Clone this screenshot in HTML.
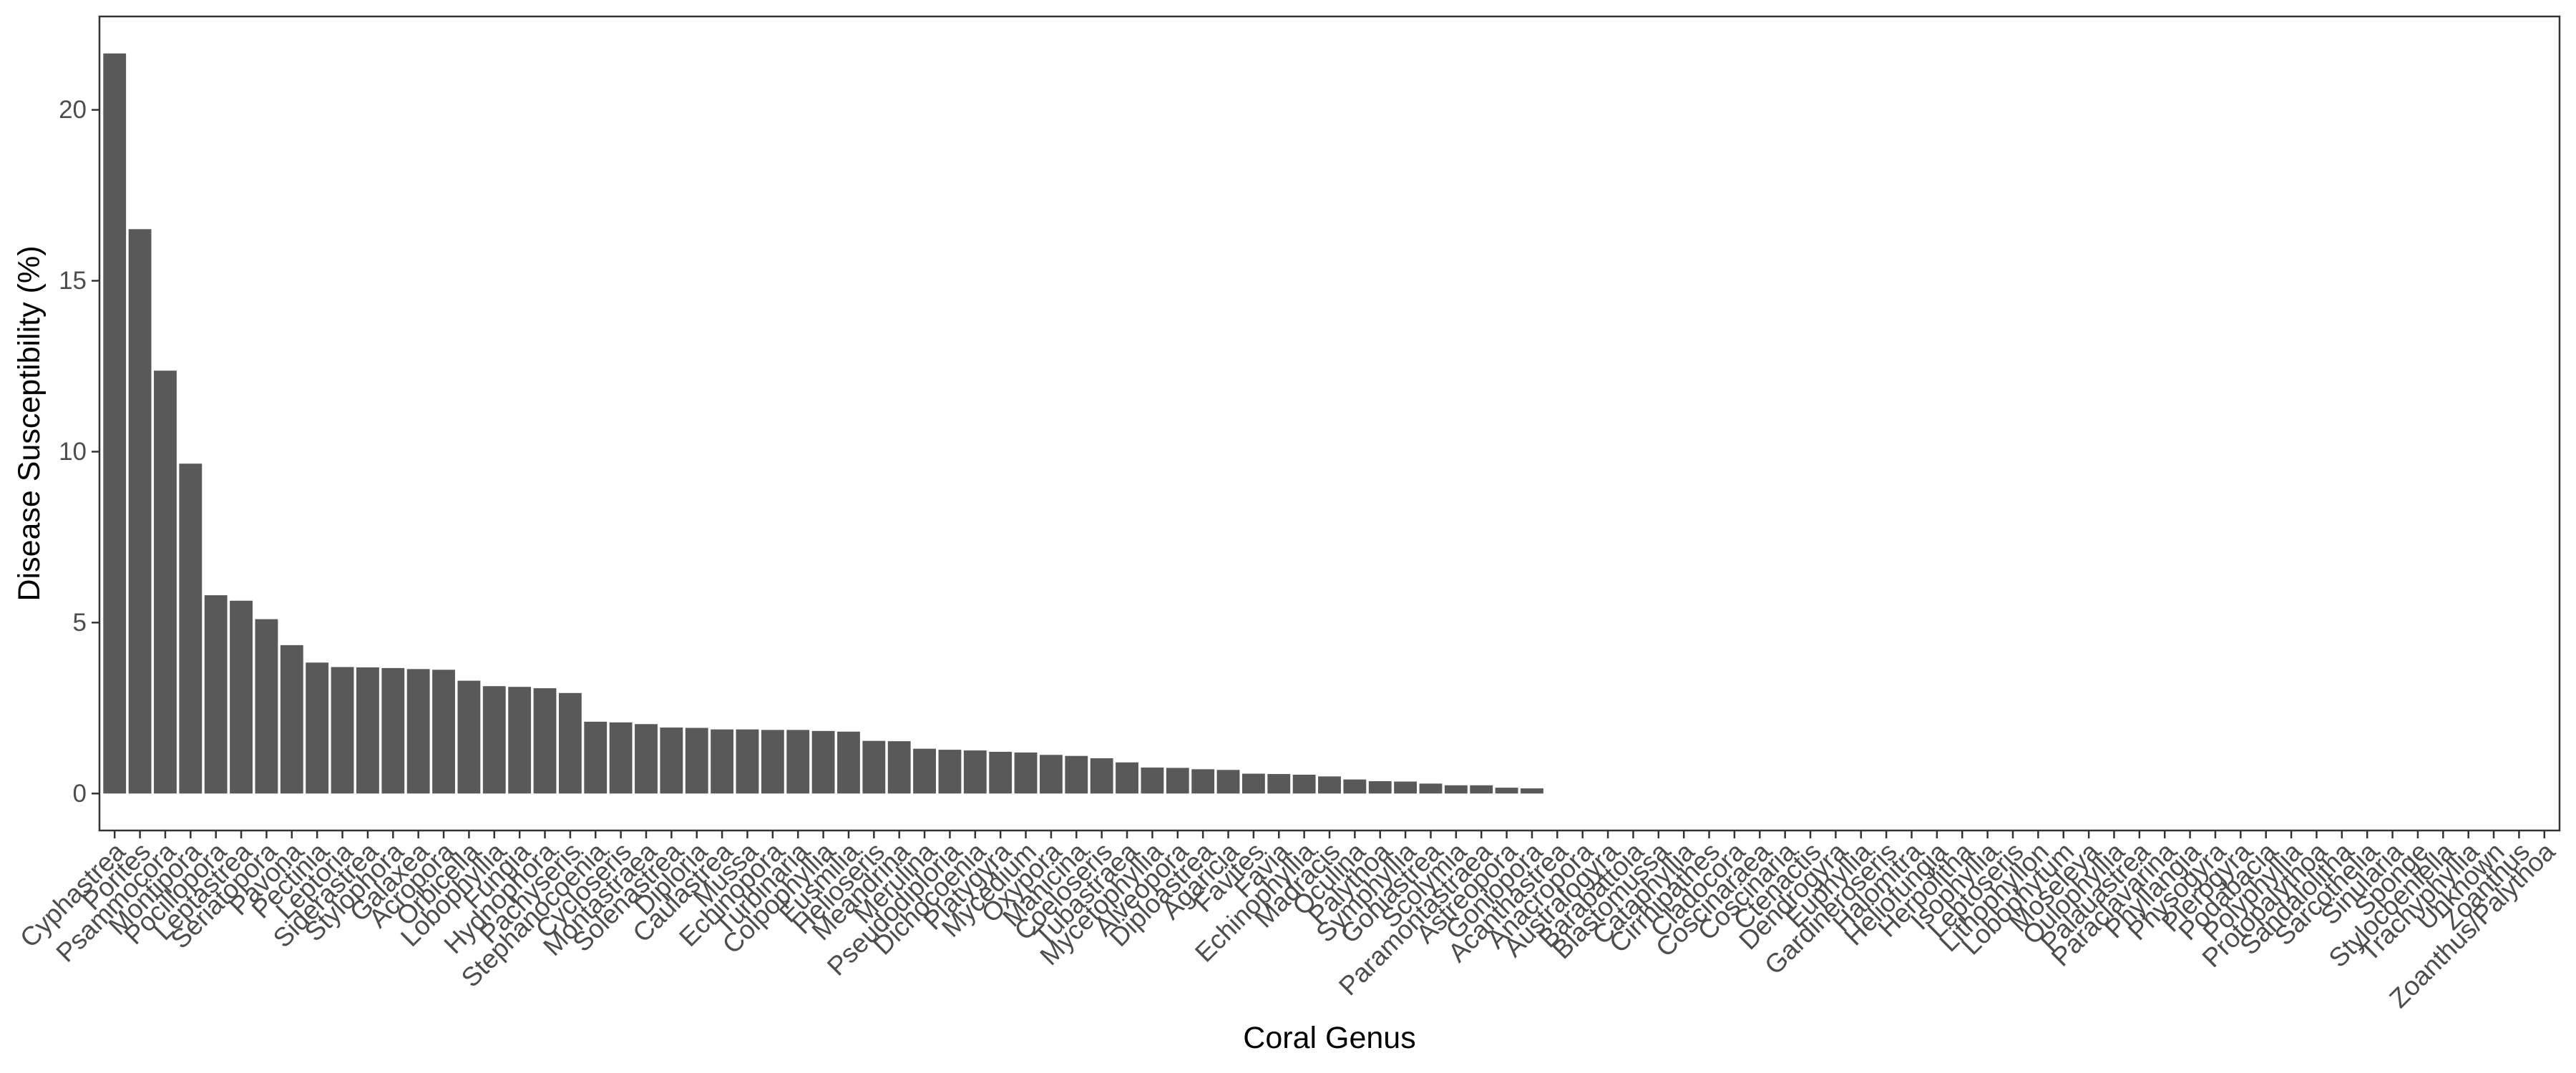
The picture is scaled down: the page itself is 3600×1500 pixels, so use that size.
<!DOCTYPE html>
<html><head><meta charset="utf-8"><title>Coral disease susceptibility</title>
<style>html,body{margin:0;padding:0;background:#fff;}svg{display:block;font-family:"Liberation Sans",sans-serif;}</style>
</head><body>
<svg id="chart" width="3600" height="1500" viewBox="0 0 3600 1500" xmlns="http://www.w3.org/2000/svg">
<rect x="0" y="0" width="3600" height="1500" fill="#fff"/>
<g id="bars"></g>
<g id="yaxis"></g>
<g id="xaxis"></g>
<rect x="139" y="23" width="3438" height="1138" fill="none" stroke="#333" stroke-width="2.5"/>
<text x="41" y="592" transform="rotate(-90 41 592)" text-anchor="middle" dominant-baseline="central" font-size="43" fill="#000">Disease Susceptibility (%)</text>
<text x="1858" y="1451" text-anchor="middle" dominant-baseline="central" font-size="43" fill="#000">Coral Genus</text>
</svg>
<script>
const categories = ["Cyphastrea","Porites","Psammocora","Montipora","Pocillopora","Leptastrea","Seriatopora","Pavona","Pectinia","Leptoria","Siderastrea","Stylophora","Galaxea","Acropora","Orbicella","Lobophyllia","Fungia","Hydnophora","Pachyseris","Stephanocoenia","Cycloseris","Montastraea","Solenastrea","Diploria","Caulastrea","Mussa","Echinopora","Turbinaria","Colpophyllia","Eusmilia","Helioseris","Meandrina","Merulina","Pseudodiploria","Dichocoenia","Platygyra","Mycedium","Oxypora","Manicina","Coeloseris","Tubastraea","Mycetophyllia","Alveopora","Diploastrea","Agaricia","Favites","Favia","Echinophyllia","Madracis","Oculina","Palythoa","Symphyllia","Goniastrea","Scolymia","Paramontastraea","Astreopora","Goniopora","Acanthastrea","Anacropora","Australogyra","Barabattoia","Blastomussa","Cataphyllia","Cirrhipathes","Cladocora","Coscinaraea","Coscinaria","Ctenactis","Dendrogyra","Euphyllia","Gardineroseris","Halomitra","Heliofungia","Herpolitha","Isophyllia","Leptoseris","Lithophyllon","Lobophytum","Moseleya","Oulophyllia","Palauastrea","Paraclavarina","Phyllangia","Physogyra","Plerogyra","Podabacia","Polyphyllia","Protopalythoa","Sandalolitha","Sarcothelia","Sinularia","Sponge","Stylocoeniella","Trachyphyllia","Unknown","Zoanthus","Zoanthus/Palythoa"];
const nonZeroValues = [21.65,16.51,12.37,9.65,5.80,5.64,5.10,4.34,3.83,3.70,3.69,3.67,3.64,3.62,3.30,3.14,3.12,3.08,2.94,2.10,2.08,2.03,1.93,1.92,1.875,1.875,1.86,1.86,1.83,1.81,1.54,1.53,1.31,1.28,1.26,1.22,1.20,1.13,1.10,1.03,0.91,0.76,0.75,0.71,0.69,0.58,0.57,0.55,0.50,0.41,0.36,0.35,0.29,0.24,0.24,0.17,0.15];
const yTicks = [0,5,10,15,20];
const yTickLabels = ["0","5","10","15","20"];

const values = categories.map((c,i)=> i < nonZeroValues.length ? nonZeroValues[i] : 0);
const NS = "http://www.w3.org/2000/svg";
const P = {left:139, right:3577, top:23, bottom:1161};
const maxV = Math.max(...values);
const yMin = -0.05*maxV, yMax = maxV*1.05;
function y(v){ return P.bottom - (v - yMin)/(yMax - yMin)*(P.bottom - P.top); }
const n = categories.length;
const step = (P.right - P.left)/(n - 1 + 1.2);
function x(i){ return P.left + step*(0.6 + i); }
function mk(tag, attrs){ const e=document.createElementNS(NS,tag); for(const k in attrs) e.setAttribute(k, attrs[k]); return e; }

const gb = document.getElementById('bars');
values.forEach((v,i)=>{
  const bw = step*0.9;
  const r = mk('rect',{x:x(i)-bw/2, y:y(Math.max(v,0)), width:bw, height:Math.abs(y(0)-y(v)), fill:'#595959'});
  
  
  gb.appendChild(r);
});

const gy = document.getElementById('yaxis');
yTicks.forEach((t,k)=>{
  const ln = mk('line',{x1:P.left-11, x2:P.left, y1:y(t), y2:y(t), stroke:'#333', 'stroke-width':2.5});
  
  
  gy.appendChild(ln);
  const tx = mk('text',{x:P.left-18, y:y(t), 'text-anchor':'end', 'dominant-baseline':'central', 'font-size':35, fill:'#4d4d4d'});
  tx.textContent = yTickLabels[k];
  
  
  gy.appendChild(tx);
});

const gx = document.getElementById('xaxis');
categories.forEach((c,i)=>{
  const ln = mk('line',{x1:x(i), x2:x(i), y1:P.bottom, y2:P.bottom+11, stroke:'#333', 'stroke-width':2.5});
  
  
  gx.appendChild(ln);
  const ax = x(i)+17, ay = P.bottom+32;
  const tx = mk('text',{x:ax, y:ay, transform:'rotate(-45 '+ax+' '+ay+')', 'text-anchor':'end', 'font-size':37, fill:'#4d4d4d'});
  tx.textContent = c;
  
  
  gx.appendChild(tx);
});
</script>
</body></html>
